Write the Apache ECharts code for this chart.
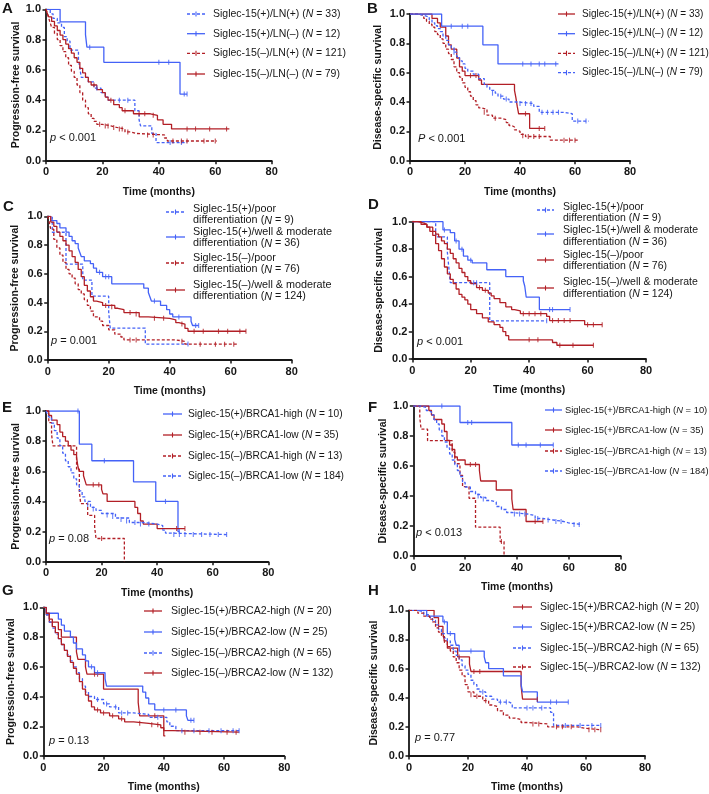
<!DOCTYPE html>
<html><head><meta charset="utf-8">
<script src="https://cdn.jsdelivr.net/npm/echarts@6/dist/echarts.min.js"></script>
<style>html,body{margin:0;padding:0;background:#fff}#c{width:709px;height:794px}</style>
</head><body><div id="c"></div>
<script>
// ---------------- DATA ----------------
// x-axis ticks (months) and y-axis ticks (survival)
const xTicks = [0, 20, 40, 60, 80];
const yTicks = [0, 0.2, 0.4, 0.6, 0.8, 1.0];

// Panel A (PFS, LN)
const A1 = [[0,1],[1.5,0.97],[2.5,0.94],[4,0.91],[5.5,0.88],[6.5,0.82],[7.5,0.79],[8.5,0.73],[11.5,0.67],[12,0.61],[12.5,0.55],[15,0.52],[17,0.48],[19.5,0.45],[21,0.42],[22,0.40],[31.5,0.33],[33,0.27],[33.5,0.23],[37.5,0.18],[39,0.12],[50,0.12]];
const A1c = [[18,0.48],[26,0.40],[29,0.40],[44,0.12],[48,0.12]];
const A2 = [[0,1],[5,0.917],[14,0.833],[14.5,0.75],[20.5,0.65],[47.5,0.44],[50,0.44]];
const A2c = [[15.5,0.75],[40,0.65],[43.5,0.65],[49,0.44],[50,0.44]];
const A3 = [[0,1],[0.5,0.97],[1,0.94],[1.5,0.91],[2,0.88],[3,0.84],[4,0.80],[5,0.76],[6,0.72],[7,0.68],[8,0.63],[9,0.59],[10,0.55],[11,0.50],[12,0.45],[13,0.40],[14,0.35],[15,0.31],[16,0.28],[17,0.26],[18,0.24],[20,0.23],[23,0.22],[25,0.21],[28,0.19],[30,0.18],[32,0.17],[42,0.15],[43,0.13],[60.5,0.13]];
const A3c = [[19,0.24],[21,0.23],[22,0.23],[24,0.22],[26,0.21],[27,0.21],[29,0.19],[36,0.17],[38,0.17],[45,0.13],[48,0.13],[50,0.13],[56,0.13],[60,0.13]];
const A4 = [[0,1],[0.5,0.97],[1,0.95],[2,0.92],[3,0.89],[4,0.86],[5,0.83],[6,0.80],[7,0.77],[8,0.74],[9,0.71],[10,0.68],[11,0.65],[12,0.61],[13,0.58],[14,0.55],[15,0.52],[16,0.50],[18,0.47],[20,0.45],[21,0.42],[22,0.40],[24,0.37],[26,0.35],[27,0.33],[31,0.31],[37,0.30],[39.5,0.27],[41.5,0.24],[44.5,0.21],[65,0.21]];
const A4c = [[17,0.50],[23,0.40],[28,0.33],[33,0.31],[35,0.31],[38,0.30],[50,0.21],[53,0.21],[58,0.21],[64,0.21]];

// Panel B (DSS, LN)
const B1 = [[0,1],[8,0.97],[10,0.94],[11,0.91],[13,0.85],[14,0.79],[15,0.76],[17,0.70],[18,0.64],[19,0.61],[20,0.58],[25,0.55],[26,0.52],[38,0.48],[38.5,0.43],[39,0.37],[39.5,0.32],[43.5,0.22],[49,0.22]];
const B1c = [[22,0.58],[24,0.58],[42,0.32],[47,0.22],[49,0.22]];
const B2 = [[0,1],[11.5,0.917],[26.5,0.79],[32,0.66],[54,0.66]];
const B2c = [[15,0.917],[19,0.917],[21,0.917],[41,0.66],[44,0.66],[47,0.66],[49,0.66],[53,0.66]];
const B3 = [[0,1],[3,0.99],[5,0.97],[6,0.95],[7,0.93],[8,0.91],[9,0.88],[10,0.86],[11,0.83],[12,0.80],[13,0.76],[14,0.73],[15,0.69],[16,0.64],[17,0.60],[18,0.57],[19,0.53],[20,0.50],[21,0.47],[22,0.44],[23,0.41],[24,0.38],[25,0.36],[26,0.35],[28,0.31],[30,0.29],[33,0.28],[35,0.26],[36,0.24],[37,0.23],[38,0.21],[39,0.20],[40,0.18],[42,0.165],[51,0.14],[61,0.14]];
const B3c = [[27,0.33],[31,0.29],[41,0.17],[43,0.165],[45,0.165],[47,0.165],[56,0.14],[58,0.14],[60,0.14]];
const B4 = [[0,1],[3,0.99],[5,0.98],[7,0.96],[8,0.94],[9,0.92],[10,0.90],[11,0.88],[12,0.85],[13,0.82],[14,0.79],[15,0.77],[16,0.74],[17,0.71],[18,0.68],[19,0.66],[20,0.63],[21,0.61],[23,0.59],[25,0.56],[27,0.52],[28,0.50],[29,0.48],[31,0.46],[32,0.44],[34,0.42],[36,0.40],[39,0.39],[45,0.37],[47,0.33],[56,0.32],[59,0.27],[65,0.27]];
const B4c = [[16,0.74],[30,0.46],[33,0.44],[35,0.42],[40,0.39],[42,0.39],[44,0.39],[48,0.33],[50,0.33],[52,0.33],[54,0.33],[61,0.27],[64,0.27]];

// Panel C (PFS, differentiation)
const C1 = [[0,1],[1.5,0.889],[6,0.667],[11.5,0.556],[14.5,0.444],[20,0.333],[20.5,0.222],[32,0.111],[46,0.111]];
const C1c = [[46,0.111]];
const C2 = [[0,1],[1,0.97],[3,0.95],[4,0.92],[6,0.89],[7,0.86],[8,0.83],[9,0.81],[10,0.78],[10.5,0.75],[11,0.72],[12,0.69],[14,0.67],[15,0.64],[16,0.61],[18,0.58],[21,0.53],[31.5,0.50],[33,0.47],[33.5,0.44],[34,0.41],[37,0.38],[39,0.35],[40,0.32],[41,0.30],[47,0.27],[47.5,0.24],[49.5,0.24]];
const C2c = [[17,0.61],[19,0.58],[20,0.58],[35,0.41],[43,0.30],[48.5,0.24],[49.5,0.24]];
const C3 = [[0,1],[0.5,0.96],[1,0.91],[2,0.84],[3,0.78],[4,0.73],[5,0.68],[6,0.63],[7,0.60],[8,0.57],[9,0.53],[10,0.49],[11,0.46],[12,0.42],[13,0.38],[14,0.34],[15,0.30],[17,0.27],[18,0.24],[20,0.21],[22,0.18],[24,0.16],[25,0.14],[42,0.13],[45,0.11],[62,0.11]];
const C3c = [[27,0.14],[29,0.14],[44,0.13],[50,0.11],[55,0.11],[58,0.11],[61,0.11]];
const C4 = [[0,1],[1,0.96],[2,0.93],[3,0.89],[4,0.86],[5,0.83],[6,0.80],[7,0.76],[8,0.72],[9,0.68],[10,0.63],[11,0.58],[12,0.52],[13,0.48],[14,0.44],[15,0.41],[16,0.40],[18,0.38],[22,0.36],[23,0.35],[25,0.33],[30,0.30],[33,0.29],[40,0.28],[42,0.26],[43,0.25],[45,0.22],[46,0.20],[65,0.20]];
const C4c = [[19,0.38],[21,0.37],[27,0.33],[29,0.32],[35,0.29],[38,0.29],[44,0.25],[48,0.20],[51,0.20],[56,0.20],[59,0.20],[63,0.20],[65,0.20]];

// Panel D (DSS, differentiation)
const D1 = [[0,1],[8,0.889],[12,0.778],[12.5,0.667],[13,0.556],[26.5,0.278],[46,0.278]];
const D1c = [[21,0.556],[22,0.556],[46,0.278]];
const D2 = [[0,1],[10.5,0.94],[13,0.92],[14.5,0.86],[16,0.80],[17.5,0.75],[19,0.72],[20.5,0.70],[25.5,0.65],[32,0.60],[38,0.57],[38.5,0.53],[39,0.45],[43.5,0.36],[54,0.36]];
const D2c = [[11,0.94],[15,0.86],[17,0.80],[20,0.72],[47,0.36],[48,0.36],[54,0.36]];
const D3 = [[0,1],[2,0.99],[4,0.98],[5,0.96],[6,0.93],[7,0.90],[8,0.84],[9,0.79],[10,0.73],[11,0.67],[12,0.62],[13,0.58],[14,0.55],[15,0.51],[16,0.47],[17,0.45],[18,0.43],[19,0.40],[20,0.36],[22,0.33],[24,0.30],[26,0.27],[28,0.25],[30,0.23],[31,0.20],[32,0.17],[33,0.14],[48,0.12],[49.5,0.10],[62,0.10]];
const D3c = [[40,0.14],[43,0.14],[50.5,0.10],[55,0.10],[62,0.10]];
const D4 = [[0,1],[3,0.98],[5,0.96],[7,0.93],[8,0.91],[9,0.89],[10,0.86],[11,0.84],[12,0.80],[13,0.77],[14,0.73],[15,0.70],[16,0.66],[17,0.63],[18,0.60],[19,0.57],[20,0.55],[22,0.52],[24,0.50],[26,0.48],[27,0.46],[28,0.44],[30,0.41],[32,0.38],[34,0.36],[35,0.35],[37,0.33],[46,0.31],[47,0.28],[59,0.25],[65,0.25]];
const D4c = [[23,0.52],[25,0.50],[38,0.33],[40,0.33],[42,0.33],[44,0.33],[48,0.28],[50,0.28],[52,0.28],[54,0.28],[60,0.25],[62,0.25],[65,0.25]];

// Panel E (PFS, BRCA1)
const E1 = [[0,1],[12,0.78],[16.5,0.67],[31.5,0.53],[39.5,0.40],[47.5,0.20],[48,0.20]];
const E1c = [[11.5,1],[21,0.67],[43,0.40],[48,0.20]];
const E2 = [[0,1],[1,0.97],[2,0.94],[4,0.91],[5,0.86],[6,0.83],[7,0.80],[8,0.77],[9,0.74],[10,0.71],[11,0.69],[11.5,0.63],[12,0.60],[13.5,0.57],[14,0.54],[14.5,0.51],[20,0.48],[20.5,0.45],[22,0.40],[32,0.36],[33,0.32],[34,0.27],[35,0.25],[40,0.22],[50,0.22]];
const E2c = [[17,0.51],[19,0.51],[47,0.22],[50,0.22]];
const E3 = [[0,1],[1,0.923],[2,0.846],[2.5,0.769],[11,0.615],[12,0.462],[12.5,0.385],[15,0.308],[17.5,0.231],[18,0.154],[28.2,0]];
const E3c = [[20,0.154]];
const E4 = [[0,1],[0.5,0.98],[1,0.96],[2,0.92],[3,0.87],[4,0.82],[5,0.77],[6,0.72],[7,0.67],[8,0.63],[9,0.59],[10,0.55],[11,0.51],[12,0.47],[13,0.43],[14,0.40],[16,0.36],[18,0.34],[20,0.32],[25,0.29],[30,0.26],[35,0.25],[40,0.24],[42,0.21],[43,0.19],[44,0.18],[65,0.18]];
const E4c = [[15,0.38],[17,0.35],[22,0.31],[24,0.30],[27,0.28],[29,0.27],[32,0.26],[34,0.25],[37,0.25],[46,0.18],[48,0.18],[50,0.18],[53,0.18],[56,0.18],[59,0.18],[62,0.18],[65,0.18]];

// Panel F (DSS, BRCA1)
const F1 = [[0,1],[18,0.89],[38,0.74],[54,0.74]];
const F1c = [[11,1],[21,0.89],[22.5,0.89],[40.5,0.74],[43.5,0.74],[49,0.74],[54,0.74]];
const F2 = [[0,1],[6,0.97],[7,0.94],[8,0.91],[11,0.88],[12,0.83],[13,0.77],[14,0.74],[15,0.71],[16,0.66],[17,0.64],[20,0.61],[25.5,0.57],[26,0.50],[32,0.44],[38,0.38],[38.5,0.31],[43.5,0.23],[50,0.23]];
const F2c = [[22,0.61],[24,0.61],[47,0.23],[50,0.23]];
const F3 = [[0,1],[2.5,0.923],[3,0.846],[5.5,0.769],[15,0.692],[16,0.615],[18,0.538],[19,0.462],[21.5,0.385],[24,0.192],[33.5,0.096],[35,0]];
const F3c = [[34,0.096]];
const F4 = [[0,1],[3,0.99],[5,0.97],[6,0.96],[7,0.94],[8,0.91],[9,0.88],[10,0.84],[11,0.80],[12,0.76],[13,0.72],[14,0.68],[15,0.64],[16,0.61],[17,0.57],[18,0.53],[19,0.49],[20,0.46],[22,0.43],[24,0.41],[26,0.39],[28,0.37],[30,0.36],[32,0.33],[34,0.31],[36,0.29],[38,0.28],[44,0.27],[47,0.25],[50,0.24],[54,0.23],[58,0.22],[60,0.21],[65,0.21]];
const F4c = [[25,0.40],[27,0.38],[39,0.28],[41,0.28],[43,0.28],[48,0.25],[52,0.24],[55,0.23],[57,0.23],[62,0.21],[64,0.21]];

// Panel G (PFS, BRCA2)
const G1 = [[0,1],[1,0.95],[2,0.90],[5,0.85],[6,0.80],[11,0.70],[11.5,0.65],[14,0.60],[14.5,0.55],[20,0.45],[31.5,0.36],[32,0.27],[40,0.135],[40.5,0.135]];
const G1c = [[17,0.55],[18,0.55],[37,0.27]];
const G2 = [[0,1],[1,0.96],[5,0.92],[6,0.88],[7,0.84],[9,0.80],[10,0.76],[11,0.72],[13,0.68],[14,0.64],[15,0.60],[17,0.56],[20.5,0.52],[21,0.47],[33,0.43],[34,0.39],[35,0.35],[37,0.31],[47.5,0.27],[48,0.24],[50,0.24]];
const G2c = [[16,0.60],[18,0.56],[40,0.31],[44,0.31],[49,0.24],[50,0.24]];
const G3 = [[0,1],[1,0.95],[2,0.90],[3,0.86],[4,0.82],[5,0.79],[6,0.75],[7,0.71],[8,0.68],[9,0.64],[10,0.60],[11,0.56],[12,0.52],[13,0.47],[14,0.43],[15,0.40],[17,0.38],[20,0.35],[22,0.33],[25,0.29],[30,0.28],[35,0.26],[40,0.26],[41,0.23],[42,0.20],[44,0.17],[65,0.17]];
const G3c = [[18,0.38],[21,0.35],[24,0.33],[26,0.29],[28,0.29],[38,0.26],[46,0.17],[50,0.17],[55,0.17],[59,0.17],[63,0.17],[65,0.17]];
const G4 = [[0,1],[1,0.96],[2,0.92],[3,0.87],[4,0.83],[5,0.79],[6,0.75],[7,0.71],[8,0.67],[9,0.63],[10,0.59],[11,0.55],[12,0.50],[13,0.45],[14,0.41],[15,0.37],[16,0.33],[17,0.31],[19,0.29],[22,0.27],[25,0.25],[27,0.23],[30,0.22],[35,0.21],[39,0.19],[40,0.17],[43,0.16],[65,0.16]];
const G4c = [[18,0.31],[20,0.29],[23,0.27],[26,0.25],[32,0.22],[36,0.21],[38,0.21],[47,0.16],[52,0.16],[56,0.16],[61,0.16],[64,0.16]];

// Panel H (DSS, BRCA2)
const H1 = [[0,1],[8.5,0.95],[10,0.89],[11.5,0.84],[12,0.79],[13,0.74],[16.5,0.68],[20.5,0.63],[21,0.58],[38,0.48],[38.5,0.39],[43.5,0.39]];
const H1c = [[17,0.68],[22,0.58],[24,0.58],[43.5,0.39]];
const H2 = [[0,1],[6,0.96],[11.5,0.92],[13,0.84],[15.5,0.80],[16,0.76],[17,0.72],[25.5,0.68],[26,0.64],[27,0.60],[32,0.55],[38,0.49],[38.5,0.44],[43.5,0.37],[54,0.37]];
const H2c = [[12,0.92],[14,0.84],[21,0.72],[48,0.37],[50,0.37],[54,0.37]];
const H3 = [[0,1],[3,0.99],[5,0.97],[7,0.95],[8,0.93],[9,0.90],[10,0.87],[11,0.84],[12,0.81],[13,0.79],[14,0.76],[15,0.72],[16,0.69],[17,0.66],[18,0.62],[19,0.59],[20,0.56],[21,0.52],[22,0.49],[23,0.46],[24,0.44],[26,0.41],[28,0.39],[30,0.37],[34,0.36],[35,0.33],[48,0.30],[49,0.21],[65,0.21]];
const H3c = [[25,0.44],[31,0.37],[33,0.37],[40,0.33],[42,0.33],[45,0.33],[53,0.21],[58,0.21],[62,0.21],[65,0.21]];
const H4 = [[0,1],[3,0.98],[5,0.96],[7,0.94],[8,0.92],[9,0.88],[10,0.85],[11,0.82],[12,0.78],[13,0.75],[14,0.72],[15,0.68],[16,0.64],[17,0.59],[18,0.55],[19,0.49],[20,0.44],[22,0.41],[25,0.38],[27,0.35],[28,0.34],[30,0.31],[32,0.28],[34,0.26],[36,0.25],[38,0.23],[40,0.22],[47,0.20],[57,0.19],[60,0.18],[65,0.18]];
const H4c = [[21,0.42],[23,0.41],[26,0.38],[42,0.22],[44,0.22],[50,0.20],[52,0.20],[55,0.20],[61,0.18],[63,0.18],[65,0.18]];

// Group labels and sizes
const namesLN = ['Siglec-15(+)/LN(+)', 'Siglec-15(+)/LN(–)', 'Siglec-15(–)/LN(+)', 'Siglec-15(–)/LN(–)'];
const nLN = [33, 12, 121, 79];
const namesDiff = [['Siglec-15(+)/poor', 'differentiation'], ['Siglec-15(+)/well & moderate', 'differentiation'], ['Siglec-15(–)/poor', 'differentiation'], ['Siglec-15(–)/well & moderate', 'differentiation']];
const nDiff = [9, 36, 76, 124];
const namesB1 = ['Siglec-15(+)/BRCA1-high', 'Siglec-15(+)/BRCA1-low', 'Siglec-15(–)/BRCA1-high', 'Siglec-15(–)/BRCA1-low'];
const nB1 = [10, 35, 13, 184];
const namesB2 = ['Siglec-15(+)/BRCA2-high', 'Siglec-15(+)/BRCA2-low', 'Siglec-15(–)/BRCA2-high', 'Siglec-15(–)/BRCA2-low'];
const nB2 = [20, 25, 65, 132];
const pValues = ['< 0.001', '< 0.001', '= 0.001', '< 0.001', '= 0.08', '< 0.013', '= 0.13', '= 0.77'];

// ---------------- LAYOUT / STYLE ----------------
const FONT = '"Liberation Sans", Arial, sans-serif';
const BLUE = '#4462f7', RED = '#b21f26', INK = '#161616';
const PFS = 'Progression-free survival', DSS = 'Disease-specific survival';
// style codes: bs blue solid, bd blue dashed, rs red solid, rd red dashed
const panels = [
  {L:'A', g:[46,9.3,225.7,151.4], yt:PFS, ygap:24, lp:[2,9], pl:'p', pp:[50,138],
   names:namesLN, ns:nLN, data:[[A1,A1c,'bd'],[A2,A2c,'bs'],[A3,A3c,'rd'],[A4,A4c,'rs']],
   leg:{x0:187,x1:205,tx:213,fs:10.5,rows:[14,33.7,53.3,74]}},
  {L:'B', g:[410,14,220,146.7], yt:DSS, ygap:26, lp:[367,9], pl:'P', pp:[418,139],
   names:namesLN, ns:nLN, data:[[B1,B1c,'rs'],[B2,B2c,'bs'],[B3,B3c,'rd'],[B4,B4c,'bd']],
   leg:{x0:558,x1:575,tx:582,fs:10,rows:[14,33.7,53.3,72.7]}},
  {L:'C', g:[47.7,216.3,244,143.7], yt:PFS, ygap:27, lp:[3,207], pl:'p', pp:[51,341],
   names:namesDiff, ns:nDiff, data:[[C1,C1c,'bd'],[C2,C2c,'bs'],[C3,C3c,'rd'],[C4,C4c,'rs']],
   leg:{x0:166,x1:185,tx:193,fs:10.8,rows:[[212,209,220.5],[237,232,243.5],[263,258,269.5],[290,285,296.5]]}},
  {L:'D', g:[412.3,221.7,233.7,137.3], yt:DSS, ygap:28, lp:[368,205], pl:'p', pp:[417,342],
   names:namesDiff, ns:nDiff, data:[[D1,D1c,'bd'],[D2,D2c,'bs'],[D3,D3c,'rs'],[D4,D4c,'rs']],
   leg:{x0:537,x1:554,tx:563,fs:10.5,rows:[[210,207,218.5],[234,230,242],[260,255,266.5],[288,282,294]]}},
  {L:'E', g:[46,411,222.3,150.7], yt:PFS, ygap:24, lp:[2,408], pl:'p', pp:[49,539],
   names:namesB1, ns:nB1, data:[[E1,E1c,'bs'],[E2,E2c,'rs'],[E3,E3c,'rd'],[E4,E4c,'bd']],
   leg:{x0:163,x1:182,tx:188,fs:10.2,rows:[414,435,456,476]}},
  {L:'F', g:[413.3,406,207.4,150], yt:DSS, ygap:24, lp:[368,408], pl:'p', pp:[416,533],
   names:namesB1, ns:nB1, data:[[F1,F1c,'bs'],[F2,F2c,'rs'],[F3,F3c,'rd'],[F4,F4c,'bd']],
   leg:{x0:545,x1:562,tx:565,fs:9.4,rows:[410,430,451,471]}},
  {L:'G', g:[43.3,607.3,241,150], yt:PFS, ygap:27, lp:[2,591], pl:'p', pp:[49,741],
   names:namesB2, ns:nB2, data:[[G1,G1c,'rs'],[G2,G2c,'bs'],[G3,G3c,'bd'],[G4,G4c,'rs']],
   leg:{x0:144,x1:162,tx:171,fs:10.6,rows:[611,632,653,673]}},
  {L:'H', g:[409,610.3,236,147.4], yt:DSS, ygap:29, lp:[368,591], pl:'p', pp:[415,738],
   names:namesB2, ns:nB2, data:[[H1,H1c,'rs'],[H2,H2c,'bs'],[H3,H3c,'bd'],[H4,H4c,'rd']],
   leg:{x0:513,x1:532,tx:540,fs:10.5,rows:[607,627,648,667]}}
];

const option = {animation:false, backgroundColor:'#fff', grid:[], xAxis:[], yAxis:[], series:[], graphic:[]};
function txt(x, y, text, fs, extra) {
  return Object.assign({type:'text', silent:true, x:x, y:y, style:{text:text, fontFamily:FONT, fontSize:fs, fill:INK,
    verticalAlign:'middle', align:'left', rich:{i:{fontStyle:'italic', fontFamily:FONT, fontSize:fs, fill:INK}}}}, extra || {});
}

panels.forEach((P, i) => {
  option.grid.push({left:P.g[0], top:P.g[1], width:P.g[2], height:P.g[3]});
  const axisCommon = {
    axisLine:{onZero:false, lineStyle:{color:INK, width:1.8}},
    axisTick:{length:3.5, lineStyle:{color:INK, width:1.5}},
    splitLine:{show:false},
    nameLocation:'middle',
    nameTextStyle:{fontFamily:FONT, fontWeight:'bold', fontSize:10.5, color:INK}
  };
  option.xAxis.push(Object.assign({gridIndex:i, type:'value', min:xTicks[0], max:xTicks[xTicks.length-1], interval:xTicks[1]-xTicks[0],
    name:'Time (months)', nameGap:26,
    axisLabel:{fontFamily:FONT, fontWeight:'bold', fontSize:11, color:INK, margin:6}}, axisCommon));
  option.yAxis.push(Object.assign({gridIndex:i, type:'value', min:yTicks[0], max:yTicks[yTicks.length-1], interval:yTicks[1]-yTicks[0],
    name:P.yt, nameGap:P.ygap,
    axisLabel:{fontFamily:FONT, fontWeight:'bold', fontSize:11, color:INK, margin:5, formatter:v => v.toFixed(1)}}, axisCommon));

  P.data.forEach((d, k) => {
    const col = d[2][0] === 'b' ? BLUE : RED;
    const dashed = d[2][1] === 'd';
    const nm = P.L + ': ' + (Array.isArray(P.names[k]) ? P.names[k].join(' ') : P.names[k]);
    option.series.push({type:'line', name:nm, xAxisIndex:i, yAxisIndex:i, step:'end', data:d[0], symbol:'none', silent:true,
      lineStyle:{color:col, width:1.3, type:dashed ? [3,2] : 'solid'}, z:2});
    option.series.push({type:'scatter', name:nm + ' censored', xAxisIndex:i, yAxisIndex:i, data:d[1], symbol:'rect', symbolSize:[1.1,5], silent:true,
      itemStyle:{color:col}, z:3});

    // legend entry
    const Lg = P.leg, row = Lg.rows[k];
    const ys = Array.isArray(row) ? row[0] : row;
    const xm = (Lg.x0 + Lg.x1) / 2;
    option.graphic.push({type:'line', silent:true, shape:{x1:Lg.x0, y1:ys, x2:Lg.x1, y2:ys}, style:{stroke:col, lineWidth:1.3, lineDash:dashed ? [3,2] : null}});
    option.graphic.push({type:'line', silent:true, shape:{x1:xm, y1:ys-2.5, x2:xm, y2:ys+2.5}, style:{stroke:col, lineWidth:1.1}});
    const nTxt = ' ({i|N} = ' + P.ns[k] + ')';
    if (Array.isArray(row)) {
      option.graphic.push(txt(Lg.tx, row[1], P.names[k][0], Lg.fs));
      option.graphic.push(txt(Lg.tx, row[2], P.names[k][1] + nTxt, Lg.fs));
    } else {
      option.graphic.push(txt(Lg.tx, row, P.names[k] + nTxt, Lg.fs));
    }
  });

  // panel letter
  option.graphic.push({type:'text', silent:true, x:P.lp[0], y:P.lp[1], style:{text:P.L, fontFamily:FONT, fontWeight:'bold', fontSize:15, fill:INK, verticalAlign:'middle', align:'left'}});
  // p value
  option.graphic.push(txt(P.pp[0], P.pp[1], '{i|' + P.pl + '} ' + pValues[i], 11));
});

const chart = echarts.init(document.getElementById('c'), null, {renderer:'canvas'});
chart.setOption(option);
</script>
</body></html>
